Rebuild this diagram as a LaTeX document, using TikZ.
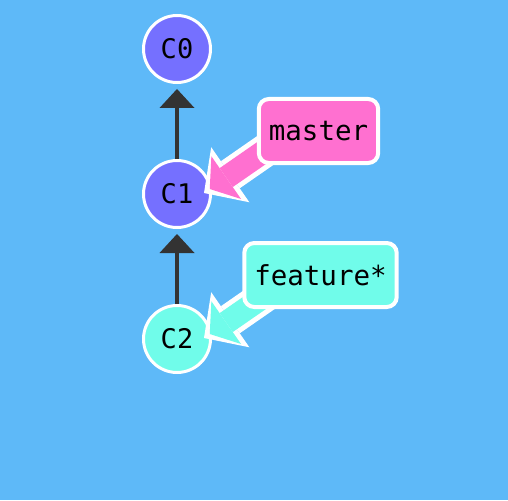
\documentclass[tikz,border=0pt]{standalone}
\usepackage{fontspec}
\usetikzlibrary{arrows.meta}
\newfontfamily\gitfont{DejaVu Sans Mono}
\definecolor{sky}{RGB}{94,185,248}
\definecolor{commitc}{RGB}{117,112,255}
\definecolor{headc}{RGB}{112,252,234}
\definecolor{masterc}{RGB}{255,112,208}
\definecolor{edgec}{RGB}{51,51,51}
\pgfdeclarelayer{pointers}
\pgfdeclarelayer{labels}
\pgfsetlayers{main,pointers,labels}

\begin{document}
\begin{tikzpicture}[x=1pt,y=-1pt,
    commit/.style={circle,draw=white,line width=3pt,minimum size=67pt,inner sep=0pt,font=\gitfont\fontsize{27}{27}\selectfont},
    parent/.style={draw=edgec,line width=4pt,shorten >=5pt,-{Triangle[length=19pt,width=35pt,line width=0pt]}},
    branch/.style={draw=white,line width=4pt,rounded corners=10pt,minimum height=64pt,inner xsep=10pt,font=\gitfont\fontsize{27.5}{27.5}\selectfont},
    pointer/.style={draw=#1,line width=23pt,shorten >=7pt,-{Triangle[length=20pt,width=52pt,line width=0pt]},
        preaction={draw=white,line width=33pt,shorten >=0pt,-{Triangle[length=32pt,width=67pt,line width=0pt]}}}]
    \fill[sky] (0,0) rectangle (508,500);
    \useasboundingbox (0,0) rectangle (508,500);
    \node[commit,fill=commitc] (c0) at (177,49) {C0};
    \node[commit,fill=commitc] (c1) at (177,194) {C1};
    \node[commit,fill=headc] (c2) at (177,339) {C2};
    \draw[parent] (c1) -- (c0);
    \draw[parent] (c2) -- (c1);
\begin{pgfonlayer}{labels}
    \node[branch,fill=masterc] (master) at (318.5,131) {master};
    \node[branch,fill=headc] (feature) at (320.5,275) {feature*};
\end{pgfonlayer}
\begin{pgfonlayer}{pointers}
    \draw[pointer=masterc] ([xshift=-28pt,yshift=-2pt]master.center) -- ([xshift=27pt,yshift=1pt]c1.center);
    \draw[pointer=headc] ([xshift=-30pt,yshift=-3pt]feature.center) -- ([xshift=27pt,yshift=1pt]c2.center);
\end{pgfonlayer}
\end{tikzpicture}
\end{document}
